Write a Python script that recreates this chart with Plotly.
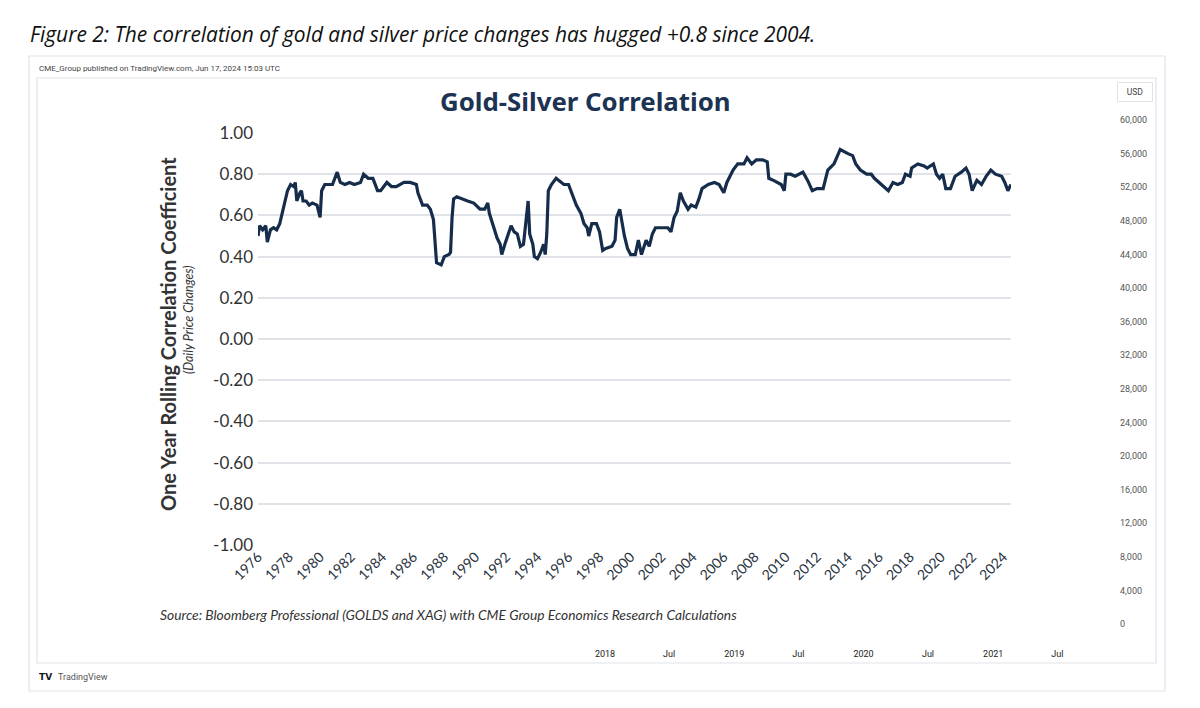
import plotly.graph_objects as go

# ---------------- data ----------------
years = [
    1976.0, 1976.1, 1976.3, 1976.5, 1976.6, 1976.8, 1977.0, 1977.2, 1977.4, 1977.6,
    1977.8, 1977.9, 1978.1, 1978.3, 1978.4, 1978.5, 1978.7, 1978.8, 1978.9, 1979.1,
    1979.3, 1979.5, 1979.8, 1980.0, 1980.1, 1980.3, 1980.8, 1981.1, 1981.3, 1981.6,
    1981.9, 1982.2, 1982.6, 1982.8, 1983.1, 1983.4, 1983.7, 1983.9, 1984.3, 1984.6,
    1984.9, 1985.4, 1985.8, 1986.2, 1986.3, 1986.6, 1986.9, 1987.1, 1987.3, 1987.4,
    1987.5, 1987.8, 1988.0, 1988.3, 1988.4, 1988.5, 1988.6, 1988.8, 1989.1, 1989.5,
    1989.9, 1990.3, 1990.6, 1990.8, 1990.9, 1991.1, 1991.4, 1991.6, 1991.7, 1991.9,
    1992.3, 1992.5, 1992.7, 1992.9, 1993.1, 1993.2, 1993.4, 1993.5, 1993.7, 1993.8,
    1994.0, 1994.2, 1994.4, 1994.5, 1994.6, 1994.7, 1994.9, 1995.2, 1995.7, 1996.0,
    1996.2, 1996.5, 1996.8, 1997.0, 1997.2, 1997.3, 1997.5, 1997.8, 1998.0, 1998.2,
    1998.4, 1998.8, 1999.0, 1999.1, 1999.3, 1999.6, 1999.8, 2000.0, 2000.3, 2000.5,
    2000.7, 2001.0, 2001.2, 2001.4, 2001.6, 2002.0, 2002.4, 2002.6, 2002.8, 2003.0,
    2003.2, 2003.4, 2003.7, 2003.9, 2004.2, 2004.4, 2004.6, 2005.0, 2005.4, 2005.7,
    2006.0, 2006.2, 2006.6, 2006.9, 2007.3, 2007.5, 2007.8, 2008.1, 2008.5, 2008.8,
    2008.9, 2009.2, 2009.7, 2009.9, 2010.0, 2010.3, 2010.6, 2011.1, 2011.4, 2011.7,
    2012.0, 2012.4, 2012.7, 2013.1, 2013.3, 2013.5, 2014.0, 2014.3, 2014.5, 2014.8,
    2015.2, 2015.5, 2015.7, 2016.0, 2016.3, 2016.6, 2016.9, 2017.2, 2017.5, 2017.7,
    2018.0, 2018.1, 2018.5, 2018.9, 2019.1, 2019.5, 2019.7, 2019.9, 2020.1, 2020.3,
    2020.6, 2020.9, 2021.3, 2021.6, 2021.8, 2022.0, 2022.3, 2022.6, 2022.9, 2023.2,
    2023.5, 2023.9, 2024.1, 2024.3, 2024.5,
]
correlation = [
    0.50, 0.55, 0.53, 0.55, 0.47, 0.53, 0.54, 0.53, 0.56, 0.63,
    0.70, 0.72, 0.75, 0.74, 0.76, 0.67, 0.71, 0.72, 0.67, 0.67,
    0.65, 0.66, 0.65, 0.59, 0.72, 0.75, 0.75, 0.81, 0.76, 0.75,
    0.76, 0.75, 0.76, 0.80, 0.78, 0.78, 0.72, 0.72, 0.76, 0.74,
    0.74, 0.76, 0.76, 0.75, 0.71, 0.65, 0.65, 0.63, 0.58, 0.46,
    0.37, 0.36, 0.40, 0.41, 0.42, 0.59, 0.68, 0.69, 0.68, 0.67,
    0.66, 0.63, 0.63, 0.66, 0.61, 0.56, 0.49, 0.46, 0.41, 0.46,
    0.55, 0.52, 0.51, 0.45, 0.46, 0.53, 0.67, 0.51, 0.46, 0.40,
    0.39, 0.42, 0.46, 0.41, 0.51, 0.72, 0.75, 0.78, 0.75, 0.75,
    0.71, 0.65, 0.61, 0.56, 0.54, 0.50, 0.56, 0.56, 0.52, 0.43,
    0.44, 0.45, 0.48, 0.59, 0.63, 0.50, 0.44, 0.41, 0.41, 0.48,
    0.41, 0.48, 0.45, 0.51, 0.54, 0.54, 0.54, 0.52, 0.59, 0.62,
    0.71, 0.67, 0.63, 0.65, 0.64, 0.68, 0.73, 0.75, 0.76, 0.75,
    0.71, 0.76, 0.82, 0.85, 0.85, 0.88, 0.85, 0.87, 0.87, 0.86,
    0.78, 0.77, 0.75, 0.72, 0.80, 0.80, 0.79, 0.81, 0.77, 0.72,
    0.73, 0.73, 0.82, 0.85, 0.89, 0.92, 0.90, 0.89, 0.85, 0.82,
    0.80, 0.80, 0.78, 0.76, 0.74, 0.72, 0.76, 0.75, 0.76, 0.80,
    0.79, 0.83, 0.85, 0.84, 0.83, 0.85, 0.80, 0.78, 0.80, 0.73,
    0.73, 0.79, 0.81, 0.83, 0.80, 0.72, 0.77, 0.75, 0.79, 0.82,
    0.80, 0.79, 0.76, 0.72, 0.75,
]

year_ticks = list(range(1976, 2025, 2))
year_tick_labels = [str(y) for y in year_ticks]
corr_ticks = [-1.0, -0.8, -0.6, -0.4, -0.2, 0.0, 0.2, 0.4, 0.6, 0.8, 1.0]
corr_tick_labels = ["-1.00", "-0.80", "-0.60", "-0.40", "-0.20", "0.00",
                    "0.20", "0.40", "0.60", "0.80", "1.00"]

usd_ticks = list(range(0, 60001, 4000))
tv_dates = ["2018-01-01", "2018-07-01", "2019-01-01", "2019-07-01",
            "2020-01-01", "2020-07-01", "2021-01-01", "2021-07-01"]
tv_date_labels = ["2018", "Jul", "2019", "Jul", "2020", "Jul", "2021", "Jul"]

caption = "Figure 2: The correlation of gold and silver price changes has hugged +0.8 since 2004."
chart_title = "Gold-Silver Correlation"
y_title = "One Year Rolling Correlation Coefficient"
y_subtitle = "(Daily Price Changes)"
source_text = "Source: Bloomberg Professional (GOLDS and XAG) with CME Group Economics Research Calculations"
published = "CME_Group published on TradingView.com, Jun 17, 2024 15:03 UTC"

# ---------------- layout helpers ----------------
W, H = 1200, 708
def px(x):
    return x / W
def py(y):
    return 1 - y / H

NAVY = "#162c4b"
TXT = "#333333"
FRAME = "#e0e3eb"
CHART_FONT = "Lato"

fig = go.Figure()
fig.add_trace(go.Scatter(
    x=years, y=correlation, mode="lines",
    line=dict(color=NAVY, width=3.2),
    xaxis="x", yaxis="y", showlegend=False, hoverinfo="skip",
))
# empty traces to hold the TradingView frame axes
fig.add_trace(go.Scatter(x=[], y=[], xaxis="x2", yaxis="y2", showlegend=False))
fig.add_trace(go.Scatter(x=[], y=[], xaxis="x3", yaxis="y3", showlegend=False))

fig.update_layout(
    template="none",
    width=W, height=H,
    margin=dict(l=0, r=0, t=0, b=0, pad=0),
    paper_bgcolor="white", plot_bgcolor="rgba(0,0,0,0)",
    showlegend=False,
    xaxis=dict(
        domain=[px(258), px(1011)], range=[1976, 2024.5],
        tickvals=year_ticks, ticktext=year_tick_labels, tickangle=-45,
        tickfont=dict(family=CHART_FONT, size=14, color="#2a3340"),
        showgrid=False, zeroline=False, showline=False, ticks="",
        anchor="y", automargin=False, ticklabeloverflow="allow",
    ),
    yaxis=dict(
        domain=[py(545), py(133)], range=[-1, 1],
        tickvals=corr_ticks, ticktext=corr_tick_labels,
        tickfont=dict(family=CHART_FONT, size=17, color=TXT),
        showgrid=True, gridcolor="#e0e4e9", gridwidth=1.6,
        zeroline=False, showline=False, ticks="",
        ticklabelstandoff=4, anchor="x", automargin=False,
    ),
    xaxis2=dict(domain=[px(1116), px(1119)], visible=False, range=[0, 1],
                anchor="y2", automargin=False),
    yaxis2=dict(
        domain=[py(624), py(120)], range=[0, 60000], side="right", anchor="x2",
        tickvals=usd_ticks, tickformat=",",
        tickfont=dict(family="Roboto", size=9, color="#555555"),
        showgrid=False, zeroline=False, showline=False, ticks="", automargin=False,
    ),
    xaxis3=dict(
        type="date", domain=[px(37), px(1115)],
        range=["2013-08-11", "2021-12-11"],
        tickvals=tv_dates, ticktext=tv_date_labels, tickangle=0,
        tickfont=dict(family="Roboto", size=9, color="#222222"),
        showgrid=False, zeroline=False, showline=False, ticks="",
        anchor="y3", automargin=False,
    ),
    yaxis3=dict(domain=[py(647), py(641)], visible=False, range=[0, 1],
                anchor="x3", automargin=False),
)

# frames
fig.add_shape(type="rect", xref="paper", yref="paper",
              x0=px(29), x1=px(1165), y0=py(691), y1=py(56),
              line=dict(color=FRAME, width=1.2), fillcolor="rgba(0,0,0,0)", layer="below")
fig.add_shape(type="rect", xref="paper", yref="paper",
              x0=px(37), x1=px(1156), y0=py(663), y1=py(78),
              line=dict(color=FRAME, width=1.2), fillcolor="rgba(0,0,0,0)", layer="below")

ann = []
ann.append(dict(text="<i>" + caption + "</i>", x=px(28), y=py(34), xanchor="left", yanchor="middle",
                font=dict(family="Open Sans", size=20.9, color="#111111")))
ann.append(dict(text=published, x=px(37), y=py(69), xanchor="left", yanchor="middle",
                font=dict(family="Roboto", size=8, color="#444444")))
ann.append(dict(text="<b>" + chart_title + "</b>", x=px(585), y=py(101), xanchor="center", yanchor="middle",
                font=dict(family="Noto Sans", size=25.8, color="#1d3353")))
ann.append(dict(text="<b>" + y_title + "</b>", x=px(168), y=py(334), xanchor="center", yanchor="middle",
                textangle=-90, font=dict(family=CHART_FONT, size=20, color=TXT)))
ann.append(dict(text="<i>" + y_subtitle + "</i>", x=px(188), y=py(320), xanchor="center", yanchor="middle",
                textangle=-90, font=dict(family=CHART_FONT, size=12.5, color=TXT)))
ann.append(dict(text="<i>" + source_text + "</i>", x=px(158), y=py(614), xanchor="left", yanchor="middle",
                font=dict(family=CHART_FONT, size=13.8, color=TXT)))
ann.append(dict(text="USD", x=px(1135), y=py(92), xanchor="center", yanchor="middle",
                width=32, height=16, bordercolor=FRAME, borderwidth=1, borderpad=1,
                font=dict(family="Roboto", size=8.5, color="#444444")))
ann.append(dict(text="<b>TV</b>", x=px(37), y=py(677), xanchor="left", yanchor="middle",
                font=dict(family="DejaVu Sans", size=9, color="#131722")))
ann.append(dict(text="TradingView", x=px(56), y=py(677), xanchor="left", yanchor="middle",
                font=dict(family="Roboto", size=9, color="#555555")))
for a in ann:
    a.update(xref="paper", yref="paper", showarrow=False)
fig.update_layout(annotations=ann)

fig.write_html("out.html")
